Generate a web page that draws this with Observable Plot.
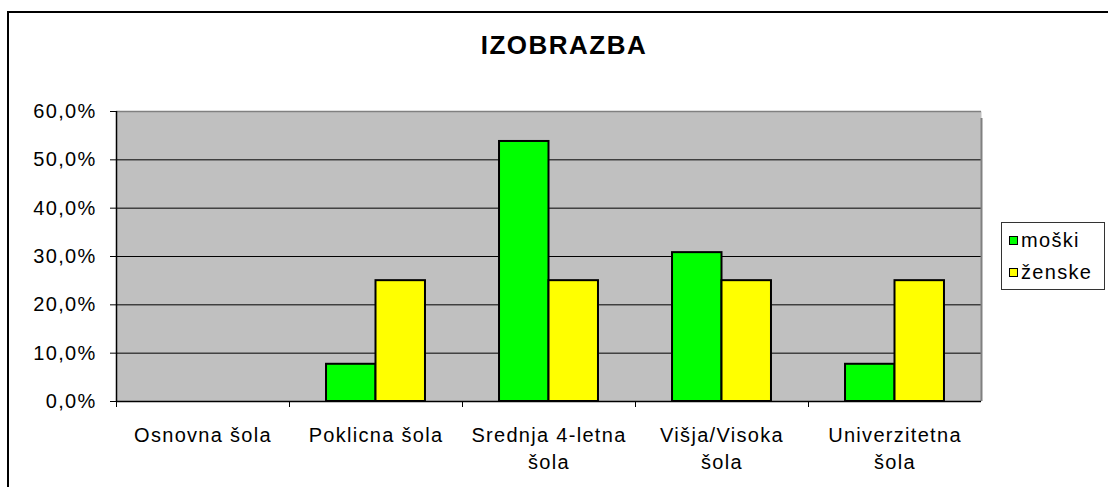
<!DOCTYPE html>
<html><head><meta charset="utf-8">
<script src="https://cdn.jsdelivr.net/npm/d3@7"></script>
<script src="https://cdn.jsdelivr.net/npm/@observablehq/plot@0.6"></script>
<style>
body{margin:0;background:#fff;}
#wrap{position:relative;width:1108px;height:487px;overflow:hidden;font-family:"Liberation Sans",Arial,sans-serif;background:#fff;}
#wrap svg{position:absolute;left:0;top:0;}
#border{position:absolute;left:7px;top:11px;width:1300px;height:700px;border:2px solid #000;pointer-events:none;}
#title{position:absolute;left:0;width:1128px;top:31.6px;text-align:center;font-size:26px;font-weight:bold;line-height:1;letter-spacing:1.5px;color:#000;}
#legend{position:absolute;left:1001px;top:222px;width:102px;height:66px;border:1px solid #333;background:#fff;}
.sw{position:absolute;width:7px;height:7px;border:1px solid #000;left:7px;}
.lt{position:absolute;left:19px;font-size:20px;line-height:1;letter-spacing:1.3px;color:#000;white-space:nowrap;}
</style>
</head><body>
<div id="wrap"></div>
<script>
const title = "IZOBRAZBA";
const categories = ["Osnovna šola", "Poklicna šola", "Srednja 4-letna\nšola", "Višja/Visoka\nšola", "Univerzitetna\nšola"];
const series = ["moški", "ženske"];
const moski = [0, 7.7, 53.8, 30.8, 7.7];
const zenske = [0, 25.0, 25.0, 25.0, 25.0];
const yTicks = [0, 10, 20, 30, 40, 50, 60];
const colors = ["#00ff00", "#ffff00"];

const values = [moski, zenske];
const rows = [];
categories.forEach((c, ci) => series.forEach((s, si) => {
  rows.push({cat: c, ci, sex: s, si, value: values[si][ci]});
}));

const barW = 0.286; // fraction of a category band per bar

const chart = Plot.plot({
  width: 1108,
  height: 487,
  marginTop: 111,
  marginBottom: 86,
  marginLeft: 116,
  marginRight: 127,
  style: {fontFamily: "'Liberation Sans', Arial, sans-serif", fontSize: "20px", letterSpacing: "1.3px", background: "transparent", color: "#000"},
  x: {type: "linear", domain: [0, categories.length], axis: null, label: null},
  y: {domain: [0, 60], axis: null, label: null},
  color: {domain: series, range: colors},
  marks: [
    Plot.frame({fill: "#c0c0c0", stroke: null}),
    Plot.gridY(yTicks.filter(t => t > 0 && t < 60), {stroke: "#000", strokeOpacity: 1, strokeWidth: 1}),
    Plot.ruleY([60], {stroke: "#808080", strokeWidth: 1.5}),
    Plot.rectY(rows.filter(d => d.value > 0), {
      x1: d => d.ci + 0.5 + (d.si - 1) * barW,
      x2: d => d.ci + 0.5 + d.si * barW,
      y1: 0, y2: "value",
      fill: "sex", stroke: "#000", strokeWidth: 2
    }),
    Plot.ruleX([categories.length], {y1: 0, y2: 60, stroke: "#808080", strokeWidth: 2, insetBottom: -7}),
    Plot.ruleX([0], {y1: 0, y2: 60, stroke: "#000", strokeWidth: 1.5}),
    Plot.ruleY([0], {stroke: "#000", strokeWidth: 1.5}),
    Plot.axisY({ticks: yTicks, tickSize: 6, tickPadding: 14, stroke: "#000", fill: "#000", label: null,
      tickFormat: d => d.toFixed(1).replace(".", ",") + "%"}),
    Plot.axisX({ticks: d3.range(categories.length), tickSize: 6, tickFormat: () => "", stroke: "#000", label: null}),
    Plot.text(categories, {x: (d, i) => i + 0.5, y: () => 0, text: d => d, lineAnchor: "top", dy: 21, lineHeight: 1.35, fill: "#000", textAnchor: "middle"})
  ]
});

const wrap = document.getElementById("wrap");
wrap.appendChild(chart);

const b = document.createElement("div"); b.id = "border"; wrap.appendChild(b);
const t = document.createElement("div"); t.id = "title"; t.textContent = title; wrap.appendChild(t);
const lg = document.createElement("div"); lg.id = "legend";
series.forEach((s, i) => {
  const sw = document.createElement("div"); sw.className = "sw";
  sw.style.top = (13 + i * 32) + "px"; sw.style.background = colors[i];
  const lt = document.createElement("div"); lt.className = "lt";
  lt.style.top = (7 + i * 32) + "px"; lt.textContent = s;
  lg.appendChild(sw); lg.appendChild(lt);
});
wrap.appendChild(lg);
</script>
</body></html>
